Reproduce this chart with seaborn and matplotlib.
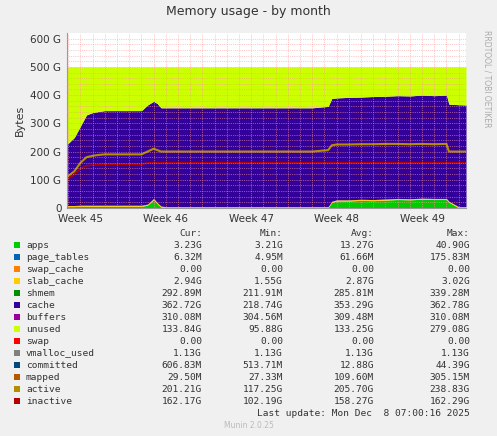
import numpy as np
import seaborn as sns
import matplotlib.pyplot as plt

# days since Monday of week 45
days = [-1.1, -0.5, 0, 0.5, 1, 1.5, 2, 3, 4, 5, 5.5, 6, 6.3, 6.6, 7, 9, 11, 13, 15, 17, 19,
        20.3, 20.6, 21, 22, 23, 24, 25, 26, 27, 28, 29, 30, 30.2, 31, 31.6]
apps = [5, 5, 6, 6, 6, 6, 6, 6, 6, 6, 10, 30, 15, 3, 1, 1, 1, 1, 1, 1, 1,
        1, 20, 25, 25, 27, 26, 28, 30, 29, 31, 30, 30, 20, 1, 1]
used_top = [225, 250, 290, 330, 338, 342, 345, 345, 345, 345, 365, 378, 370, 355, 355, 355, 355, 355, 355, 355, 355,
            360, 388, 390, 392, 393, 395, 396, 398, 397, 400, 398, 400, 368, 366, 365]
active = [110, 130, 160, 180, 185, 188, 190, 190, 190, 190, 200, 210, 205, 200, 200, 200, 200, 200, 200, 200, 200,
          205, 222, 225, 225, 226, 226, 227, 227, 226, 227, 226, 227, 200, 200, 200]
inactive = [100, 120, 140, 150, 152, 153, 155, 155, 155, 155, 160, 160, 160, 160, 160, 160, 160, 160, 160, 160, 160,
            160, 160, 160, 160, 160, 160, 160, 160, 160, 160, 160, 160, 160, 160, 160]
total_mem = 500
other_small = 3.9  # page_tables + slab + shmem + buffers

week_labels = ['Week 45', 'Week 46', 'Week 47', 'Week 48', 'Week 49']
y_labels = ['0', '100 G', '200 G', '300 G', '400 G', '500 G', '600 G']

names = ['apps', 'page_tables', 'swap_cache', 'slab_cache', 'shmem', 'cache', 'buffers', 'unused',
         'swap', 'vmalloc_used', 'committed', 'mapped', 'active', 'inactive']
colors = ['#00CC00', '#0066B3', '#FF8000', '#FFCC00', '#008F00', '#330099', '#990099', '#CCFF00',
          '#FF0000', '#808080', '#00487D', '#B35A00', '#B38F00', '#B30000']
cur = ['3.23G', '6.32M', '0.00', '2.94G', '292.89M', '362.72G', '310.08M', '133.84G', '0.00', '1.13G',
       '606.83M', '29.50M', '201.21G', '162.17G']
mn = ['3.21G', '4.95M', '0.00', '1.55G', '211.91M', '218.74G', '304.56M', '95.88G', '0.00', '1.13G',
      '513.71M', '27.33M', '117.25G', '102.19G']
avg = ['13.27G', '61.66M', '0.00', '2.87G', '285.81M', '353.29G', '309.48M', '133.25G', '0.00', '1.13G',
       '12.88G', '109.60M', '205.70G', '158.27G']
mx = ['40.90G', '175.83M', '0.00', '3.02G', '339.28M', '362.78G', '310.08M', '279.08G', '0.00', '1.13G',
      '44.39G', '305.15M', '238.83G', '162.29G']

sns.set_style('white')
plt.rcParams['font.family'] = ['DejaVu Sans']

W, H = 497, 436
fig = plt.figure(figsize=(W / 100, H / 100), dpi=100, facecolor='#F0F0F0')
ax = fig.add_axes([67 / W, (H - 208) / H, 399 / W, 175 / H])
ax.set_facecolor('white')

d = np.array(days)
a = np.array(apps)
top = np.array(used_top)
ax.fill_between(d, 0, a, color=colors[0], lw=0)
ax.fill_between(d, a, a + other_small, color=colors[3], lw=0)
ax.fill_between(d, a + other_small, top, color=colors[5], lw=0)
ax.fill_between(d, top, total_mem, color=colors[7], lw=0)
sns.lineplot(x=days, y=active, ax=ax, color=colors[12], lw=1.5)
sns.lineplot(x=days, y=inactive, ax=ax, color=colors[13], lw=1.2)

ax.set_xlim(-1.1, 31.6)
ax.set_ylim(0, 620)
ax.set_yticks([0, 100, 200, 300, 400, 500, 600])
ax.set_yticklabels(y_labels, fontsize=7.5, color='#333333')
ax.set_xticks([0, 7, 14, 21, 28])
ax.set_xticklabels(week_labels, fontsize=7.5, color='#333333')
ax.set_xticks(np.arange(-1, 31.6, 1), minor=True)
ax.set_yticks(np.arange(0, 620, 20), minor=True)
ax.grid(True, which='both', color='#FF9999', ls=':', lw=0.5)
ax.set_axisbelow(False)
for s in ['top', 'right']:
    ax.spines[s].set_visible(False)
for s in ['left', 'bottom']:
    ax.spines[s].set_color('#999999')
ax.tick_params(length=2, pad=2)
ax.set_ylabel('Bytes', fontsize=8, color='#333333')

fig.text(0.5, 1 - 12 / H, 'Memory usage - by month', ha='center', va='center', fontsize=9, color='#333333')
fig.text(487 / W, 1 - 30 / H, 'RRDTOOL / TOBI OETIKER', rotation=270, ha='center', va='top', fontsize=5.5, color='#aaaaaa')

mono = 'DejaVu Sans Mono'
fs = 6.8
hy = 233
for txt, xr in zip(['Cur:', 'Min:', 'Avg:', 'Max:'], [202, 283, 374, 470]):
    fig.text(xr / W, 1 - hy / H, txt, ha='right', va='center', family=mono, fontsize=fs, color='#333333')
for i, n in enumerate(names):
    y = 1 - (245 + i * 12) / H
    fig.patches.append(plt.Rectangle((14 / W, y - 3 / H), 6 / W, 6 / H, transform=fig.transFigure,
                                     facecolor=colors[i], edgecolor='none'))
    fig.text(26 / W, y, n, ha='left', va='center', family=mono, fontsize=fs, color='#333333')
    for v, xr in zip([cur[i], mn[i], avg[i], mx[i]], [202, 283, 374, 470]):
        fig.text(xr / W, y, v, ha='right', va='center', family=mono, fontsize=fs, color='#333333')
fig.text(470 / W, 1 - 413 / H, 'Last update: Mon Dec  8 07:00:16 2025', ha='right', va='center',
         family=mono, fontsize=fs, color='#333333')
fig.text(0.5, 1 - 425 / H, 'Munin 2.0.25', ha='center', va='center', fontsize=5.5, color='#bbbbbb')

fig.savefig('out.png', dpi=100, facecolor=fig.get_facecolor())
